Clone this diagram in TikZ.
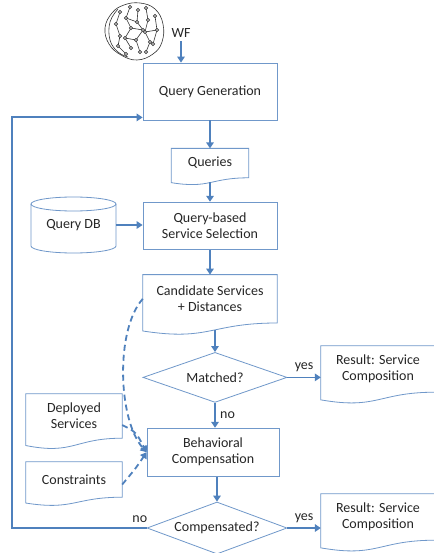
\documentclass[tikz,border=0pt]{standalone}
\usepackage{fontspec}
\setmainfont{Carlito}
\usetikzlibrary{shapes.geometric,arrows.meta,positioning,calc}

\definecolor{flowblue}{RGB}{79,129,189}
\definecolor{boxblue}{RGB}{112,152,202}
\definecolor{textgray}{RGB}{38,38,38}

% outline of a "document" node: straight top and sides, wavy bottom
\newcommand{\docshape}[1]{%
  \draw [draw=boxblue, line width=0.8pt] let \p1 = (#1.north west), \p2 = (#1.south east), \n1 = {\y1-\y2} in
    (\p1) -- (\x2,\y1) -- (\p2) .. controls ({(\x1+\x2)/2},\y2) and ({(\x1+\x2)/2},{\y2-0.38*\n1}) .. (\x1,{\y2-0.165*\n1}) -- cycle;}

\begin{document}
\begin{tikzpicture}[x=1pt, y=-1pt, font=\fontsize{14}{16}\selectfont, text=textgray]
    \tikzstyle{proc} = [rectangle, draw=boxblue, line width=0.8pt, align=center, minimum width=134pt, inner sep=0pt]
    \tikzstyle{doc} = [rectangle, align=center, inner sep=0pt]
    \tikzstyle{decide} = [diamond, draw=boxblue, line width=0.8pt, aspect=2.8, inner sep=0pt]
    \tikzstyle{arr} = [line width=1.8pt, draw=flowblue, -{Triangle[length=6pt, width=7.5pt]}]
    \tikzstyle{dasharr} = [arr, dash pattern=on 6pt off 4pt]

    \useasboundingbox [fill=white] (0,0) rectangle (433,553);

    % workflow graph
    \begin{scope}[line width=0.6pt, draw=black!80]
        \draw plot [smooth cycle, tension=0.7] coordinates {(112,13) (124,5) (140,3) (155,9) (163,24) (162,42) (153,54) (137,60) (121,55) (109,44) (105,28)};
        \draw plot [smooth, tension=0.7] coordinates {(118,9) (110,22) (110,40) (118,52) (128,57)};
        \draw (120,12) -- (116,24) -- (120,36) -- (118,46) -- (126,54);
        \draw (130,7) -- (126,18) -- (131,28) -- (125,38) -- (131,48);
        \draw (138,10) -- (137,22) -- (143,30) -- (136,40) -- (140,52);
        \draw (146,8) -- (148,20) -- (145,32) -- (150,42) -- (146,52);
        \draw (155,16) -- (157,30) -- (153,44);
        \draw (126,18) -- (137,22) (131,28) -- (143,30) (145,32) -- (157,30) (125,38) -- (136,40) (150,42) -- (153,44);
        \foreach \p in {(120,12),(116,24),(120,36),(118,46),(126,54),(130,7),(126,18),(131,28),(125,38),(131,48),(138,10),(137,22),(143,30),(136,40),(140,52),(146,8),(148,20),(145,32),(150,42),(146,52),(155,16),(157,30),(153,44)}
            \draw [fill=white] \p circle (1.6pt);
    \end{scope}
    \node (wf) at (181,33) {WF};

    % main column
    \node [proc, minimum height=57pt] (qg) at (210,91.5) {Query Generation};
    \node [doc, minimum width=77pt, minimum height=29pt, below=28pt of qg] (queries) {Queries};
    \node [proc, minimum height=47pt, below=24pt of queries] (qbss) {Query-based\\Service Selection};
    \node [doc, minimum width=134pt, minimum height=48pt, below=25pt of qbss] (cand) {Candidate Services\\+ Distances};
    \node [decide, minimum width=144pt, minimum height=50pt, below=29pt of cand, xshift=5pt] (matched) {Matched?};
    \node [proc, minimum width=132pt, minimum height=48pt, below=25pt of matched, xshift=-2pt] (bc) {Behavioral\\Compensation};
    \node [decide, minimum width=140pt, minimum height=52pt, below=25pt of bc, xshift=4pt] (comp) {Compensated?};

    % side inputs and results
    \node [doc, minimum width=85pt, minimum height=56pt] (qdb) at (73.5,225) {Query DB};
    \node [doc, minimum width=96pt, minimum height=44pt] (dep) at (74,416) {Deployed\\Services};
    \node [doc, minimum width=96pt, minimum height=35pt] (cons) at (74,479.5) {Constraints};
    \node [doc, minimum width=114pt, minimum height=46pt] (res1) at (378,369) {Result: Service\\Composition};
    \node [doc, minimum width=114pt, minimum height=46pt] (res2) at (378,517) {Result: Service\\Composition};

    \docshape{queries}
    \docshape{cand}
    \docshape{dep}
    \docshape{cons}
    \docshape{res1}
    \docshape{res2}

    % database cylinder
    \draw [draw=boxblue, line width=0.8pt] (73.5,204) ellipse [x radius=42.5pt, y radius=7pt];
    \draw [draw=boxblue, line width=0.8pt] (31,204) -- (31,246) arc [start angle=180, end angle=360, x radius=42.5pt, y radius=7pt] -- (116,204);

    \coordinate (loopin) at ($(qg.south west)+(0,-3)$);

    \draw [arr] (wf.south) -- (wf.south |- qg.north);
    \draw [arr] (qg.south) -- (queries.north);
    \draw [arr, shorten <=4pt] (queries.south) -- (qbss.north);
    \draw [arr] (qdb.east) -- (qdb.east -| qbss.west);
    \draw [arr] (qbss.south) -- (qbss.south |- cand.north);
    \draw [arr, shorten <=7pt] (cand.south -| matched.north) -- (matched.north);
    \draw [arr] (matched.east) -- (matched.east -| res1.west) node [midway, above=1pt] {yes};
    \draw [arr] (matched.south) -- (matched.south |- bc.north) node [midway, right=1pt] {no};
    \draw [arr] (comp.north |- bc.south) -- (comp.north);
    \draw [arr] (comp.east) -- (comp.east -| res2.west) node [midway, above=1pt] {yes};
    \draw [arr] (comp.west) -- node [pos=0.05, above=1pt] {no} ++(-135,0) |- (loopin);

    \draw [dasharr] (cand.west) .. controls (115,330) and (118,420) .. (bc.west);
    \draw [dasharr] ([yshift=-9pt]dep.east) .. controls (136,432) .. (bc.west);
    \draw [dasharr] ([yshift=-5pt]cons.east) .. controls (136,468) .. (bc.west);
\end{tikzpicture}
\end{document}
